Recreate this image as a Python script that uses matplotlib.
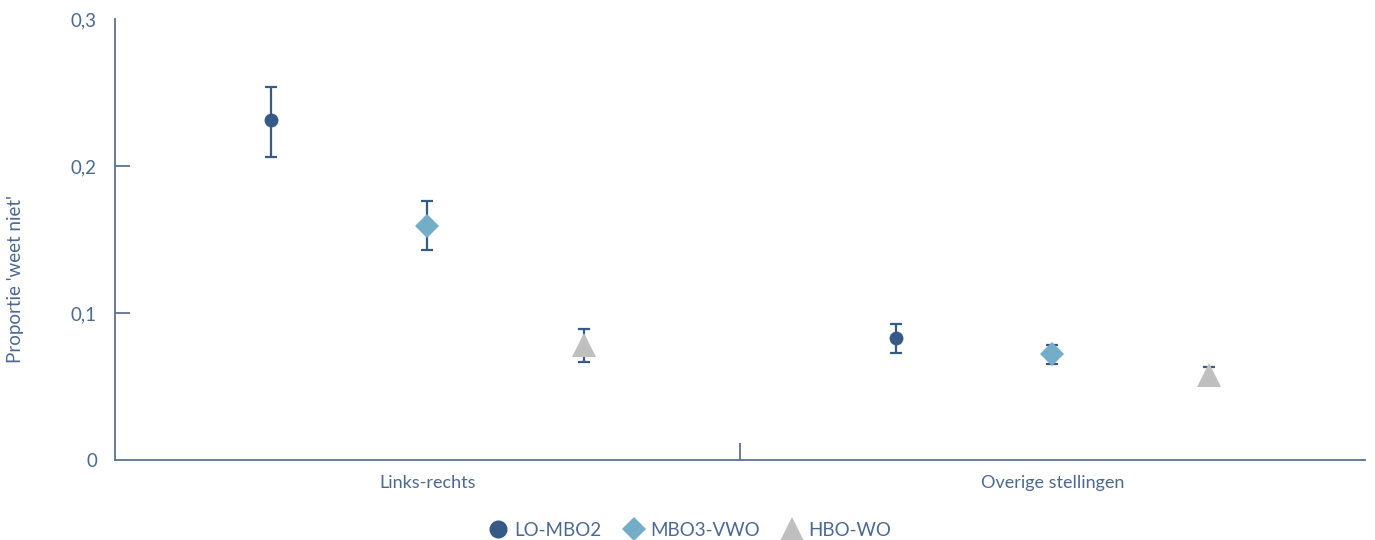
import matplotlib
matplotlib.use("Agg")
import matplotlib.pyplot as plt
import numpy as np
from matplotlib.lines import Line2D

categories = ["Links-rechts", "Overige stellingen"]
groups = ["LO-MBO2", "MBO3-VWO", "HBO-WO"]
values = {
    "LO-MBO2": [0.231, 0.0832],
    "MBO3-VWO": [0.159, 0.0721],
    "HBO-WO": [0.078, 0.058],
}
lower = {
    "LO-MBO2": [0.206, 0.0726],
    "MBO3-VWO": [0.143, 0.0651],
    "HBO-WO": [0.067, 0.0527],
}
upper = {
    "LO-MBO2": [0.2537, 0.0927],
    "MBO3-VWO": [0.176, 0.0782],
    "HBO-WO": [0.089, 0.0633],
}
yticks = [0, 0.1, 0.2, 0.3]
ytick_labels = ["0", "0,1", "0,2", "0,3"]

colors = {"LO-MBO2": "#365a87", "MBO3-VWO": "#74adc8", "HBO-WO": "#bfbfbf"}
markers = {"LO-MBO2": "o", "MBO3-VWO": "D", "HBO-WO": "^"}
msizes = {"LO-MBO2": 10, "MBO3-VWO": 12.5, "HBO-WO": 17}
err_color = "#365a87"
axis_color = "#5b7193"
text_color = "#4a6894"

plt.rcParams["font.family"] = ["Lato", "DejaVu Sans"]

fig = plt.figure(figsize=(13.75, 5.4), dpi=100)
ax = fig.add_axes([0.0836, 0.1481, 0.9091, 0.8167])

offsets = [-0.25, 0.0, 0.25]
xcenters = np.array([0.5, 1.5])
for g, off in zip(groups, offsets):
    v = np.array(values[g])
    lo = v - np.array(lower[g])
    hi = np.array(upper[g]) - v
    xs = xcenters + off
    ax.errorbar(xs, v, yerr=[lo, hi], fmt="none", ecolor=err_color,
                elinewidth=1.6, capsize=4.5, capthick=1.6, zorder=2)
    ax.plot(xs, v, linestyle="none", marker=markers[g], markersize=msizes[g],
            color=colors[g], markeredgewidth=0, zorder=3)

ax.set_xlim(0, 2)
ax.set_ylim(0, 0.3)
ax.set_yticks(yticks)
ax.set_yticklabels(ytick_labels)
ax.set_xticks([1.0])
ax.set_xticklabels([""])
ax.tick_params(axis="y", direction="in", length=11, width=1.3, color=axis_color,
               labelcolor=text_color, labelsize=13.5, pad=13)
ax.tick_params(axis="x", direction="in", length=12.5, width=1.3, color=axis_color)
# hide tick marks at 0 and 0.3 (only the labels remain there)
yt = ax.yaxis.get_major_ticks()
for i in (0, 3):
    yt[i].tick1line.set_visible(False)

for xc, cat in zip(xcenters, categories):
    ax.text(xc, -0.035, cat, transform=ax.get_xaxis_transform(), ha="center",
            va="top", fontsize=13, color=text_color)

for s in ["top", "right"]:
    ax.spines[s].set_visible(False)
for s in ["left", "bottom"]:
    ax.spines[s].set_color(axis_color)
    ax.spines[s].set_linewidth(1.3)

ax.set_ylabel("Proportie 'weet niet'", fontsize=13.5, color=text_color)
ax.yaxis.set_label_coords(-0.073, 0.41)

handles = [Line2D([0], [0], linestyle="none", marker=markers[g],
                  markersize={"LO-MBO2": 13, "MBO3-VWO": 12, "HBO-WO": 17}[g],
                  color=colors[g], markeredgewidth=0) for g in groups]
leg = fig.legend(handles, groups, loc="center", bbox_to_anchor=(0.5, 0.018),
                 ncol=3, frameon=False, fontsize=13.5, handletextpad=0.1,
                 columnspacing=1.0, handlelength=1.5)
for t in leg.get_texts():
    t.set_color(text_color)

fig.savefig("out.png", dpi=100)
